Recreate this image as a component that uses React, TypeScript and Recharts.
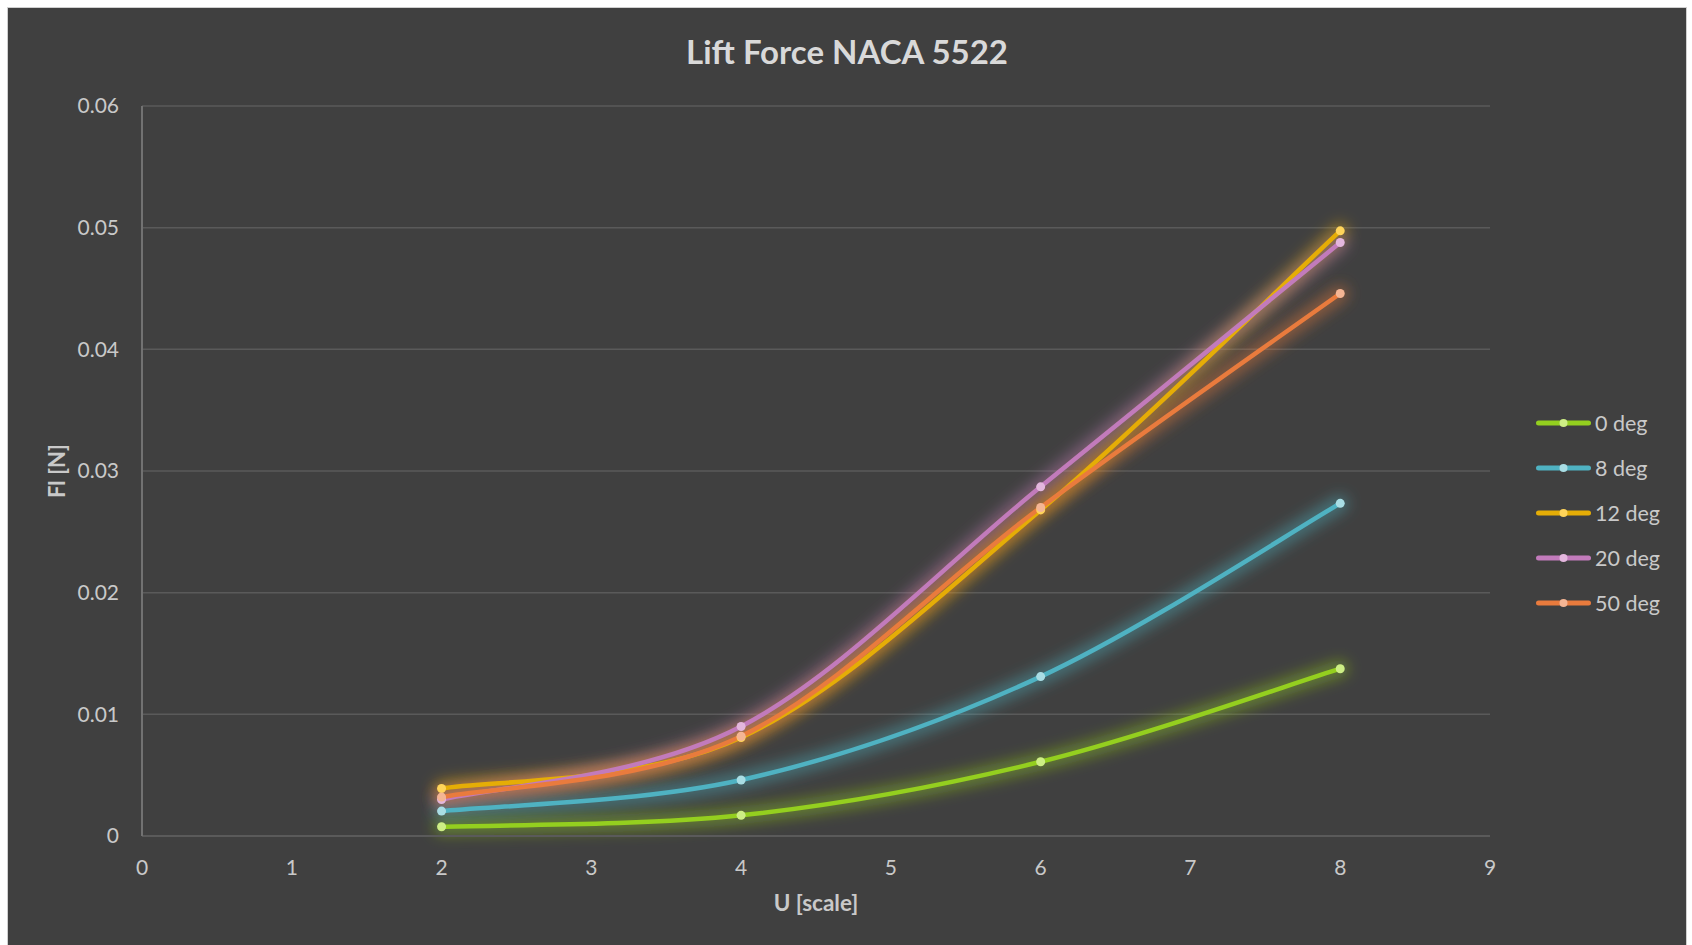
import React from 'react';
import { LineChart, Line, XAxis, YAxis, CartesianGrid, Legend, Label } from 'recharts';

// free-stream speed setting (U scale) and lift force readings in newtons
const uScale = [2, 4, 6, 8];
const lift0 = [0.00076, 0.0017, 0.0061, 0.01375];
const lift8 = [0.00205, 0.0046, 0.0131, 0.02734];
const lift12 = [0.0039, 0.0081, 0.0268, 0.04974];
const lift20 = [0.003, 0.009, 0.0287, 0.04878];
const lift50 = [0.0032, 0.0082, 0.027, 0.04459];

const seriesNames = ['0 deg', '8 deg', '12 deg', '20 deg', '50 deg'];
const seriesValues = [lift0, lift8, lift12, lift20, lift50];
const lineColors = ['#94cf1f', '#4fb2c2', '#e5ad06', '#c27bbb', '#e97b3d'];
const dotColors = ['#cdee85', '#a9dde4', '#ffd45a', '#e3b6dd', '#f4b594'];

const xTicks = [0, 1, 2, 3, 4, 5, 6, 7, 8, 9];
const yTicks = [0, 0.01, 0.02, 0.03, 0.04, 0.05, 0.06];

const rows = uScale.map((u, i) => {
    const row: Record<string, number> = { u };
    seriesValues.forEach((vals, k) => {
        row[`s${k}`] = vals[i];
    });
    return row;
});

// Excel-style smoothed line: cubic Bezier through every point, tangents from neighbours
const smoothCurve = (context: any) => {
    let pts: number[][] = [];
    return {
        areaStart() {},
        areaEnd() {},
        lineStart() {
            pts = [];
        },
        point(x: number, y: number) {
            pts.push([+x, +y]);
        },
        lineEnd() {
            if (!pts.length) return;
            context.moveTo(pts[0][0], pts[0][1]);
            for (let i = 0; i < pts.length - 1; i++) {
                const p0 = pts[Math.max(i - 1, 0)];
                const p1 = pts[i];
                const p2 = pts[i + 1];
                const p3 = pts[Math.min(i + 2, pts.length - 1)];
                context.bezierCurveTo(
                    p1[0] + (p2[0] - p0[0]) / 6,
                    p1[1] + (p2[1] - p0[1]) / 6,
                    p2[0] - (p3[0] - p1[0]) / 6,
                    p2[1] - (p3[1] - p1[1]) / 6,
                    p2[0],
                    p2[1]
                );
            }
        },
    };
};

const textColor = '#c9c9c9';

const renderLegend = () => (
    <div>
        {seriesNames.map((name, k) => (
            <div key={name} style={{ display: 'flex', alignItems: 'center', height: 45 }}>
                <svg width={67} height={20}>
                    <line x1={10.5} y1={10} x2={60.5} y2={10} stroke={lineColors[k]} strokeWidth={5} strokeLinecap="round" />
                    <circle cx={35.5} cy={10} r={4} fill={dotColors[k]} />
                </svg>
                <span style={{ color: textColor, fontSize: 21.5 }}>{name}</span>
            </div>
        ))}
    </div>
);

const LiftForceChart: React.FC = () => {
    return (
        <div
            style={{
                position: 'fixed',
                left: 0,
                top: 0,
                width: 1692,
                height: 945,
                background: '#ffffff',
                fontFamily: 'Lato, sans-serif',
            }}
        >
            <div
                style={{
                    position: 'absolute',
                    left: 7,
                    top: 7,
                    width: 1680,
                    height: 945,
                    boxSizing: 'border-box',
                    border: '1px solid #cfcfcf',
                    background: '#404040',
                }}
            >
                <div
                    style={{
                        position: 'absolute',
                        left: 0,
                        top: 23,
                        width: 1678,
                        textAlign: 'center',
                        color: '#d9d9d9',
                        fontSize: 33,
                        fontWeight: 700,
                        lineHeight: '40px',
                    }}
                >
                    Lift Force NACA 5522
                </div>
                <LineChart
                    width={1678}
                    height={937}
                    data={rows}
                    margin={{ top: 98, right: 196, bottom: 29, left: 0 }}
                >
                    <defs>
                        <filter id="glow" x="-20%" y="-20%" width="140%" height="140%">
                            <feGaussianBlur stdDeviation="7" />
                        </filter>
                    </defs>
                    <CartesianGrid vertical={false} stroke="#5a5a5a" strokeWidth={1.5} />
                    <XAxis
                        type="number"
                        dataKey="u"
                        domain={[0, 9]}
                        ticks={xTicks}
                        interval={0}
                        height={80}
                        stroke="#5a5a5a"
                        strokeWidth={2}
                        tickLine={false}
                        tickSize={0}
                        tickMargin={24}
                        tick={{ fill: textColor, fontSize: 21 }}
                    >
                        <Label
                            value="U [scale]"
                            position="insideBottom"
                            offset={5}
                            style={{ fill: textColor, fontSize: 22.5, fontWeight: 700 }}
                        />
                    </XAxis>
                    <YAxis
                        type="number"
                        domain={[0, 0.06]}
                        ticks={yTicks}
                        interval={0}
                        width={134}
                        stroke="#727272"
                        strokeWidth={2}
                        tickLine={false}
                        tickSize={0}
                        tickMargin={23}
                        tick={{ fill: textColor, fontSize: 21 }}
                    >
                        <Label
                            content={({ viewBox }: any) => {
                                const cx = viewBox.x + 48;
                                const cy = viewBox.y + viewBox.height / 2;
                                return (
                                    <text
                                        x={cx}
                                        y={cy}
                                        transform={`rotate(-90 ${cx} ${cy})`}
                                        textAnchor="middle"
                                        dominantBaseline="central"
                                        fill={textColor}
                                        fontSize={22}
                                        fontWeight={700}
                                    >
                                        Fl [N]
                                    </text>
                                );
                            }}
                        />
                    </YAxis>
                    <Legend
                        layout="vertical"
                        align="center"
                        verticalAlign="middle"
                        content={renderLegend}
                        wrapperStyle={{ left: 1520, top: 392, width: 158 }}
                    />
                    {seriesNames.map((name, k) => (
                        <Line
                            key={`glow-${name}`}
                            type={smoothCurve as any}
                            dataKey={`s${k}`}
                            stroke={lineColors[k]}
                            strokeWidth={17}
                            strokeOpacity={0.42}
                            strokeLinecap="round"
                            filter="url(#glow)"
                            dot={false}
                            activeDot={false}
                            legendType="none"
                            isAnimationActive={false}
                        />
                    ))}
                    {seriesNames.map((name, k) => (
                        <Line
                            key={name}
                            name={name}
                            type={smoothCurve as any}
                            dataKey={`s${k}`}
                            stroke={lineColors[k]}
                            strokeWidth={4.5}
                            dot={{ r: 4.5, fill: dotColors[k], stroke: 'none' }}
                            activeDot={false}
                            isAnimationActive={false}
                        />
                    ))}
                </LineChart>
            </div>
        </div>
    );
};

export default function App() {
    return <LiftForceChart />;
}
